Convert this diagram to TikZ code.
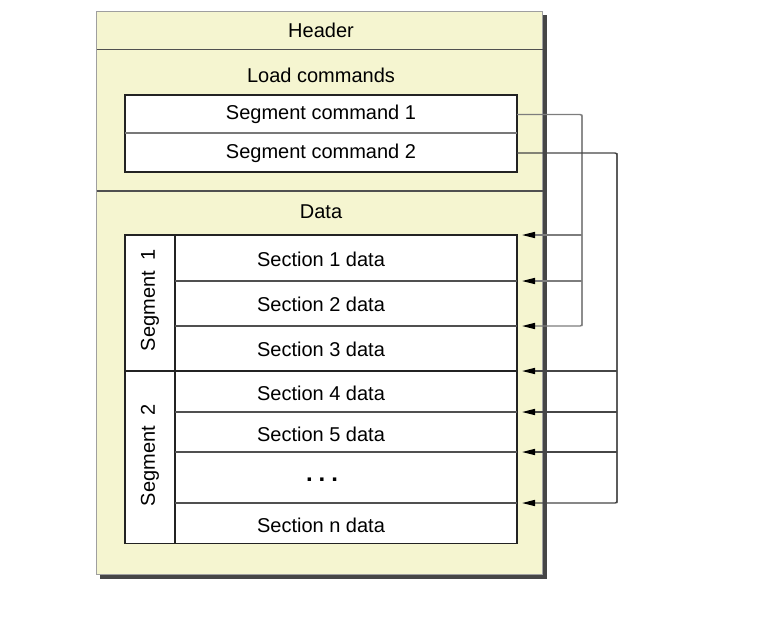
\documentclass[tikz,border=0pt]{standalone}
\usepackage{fontspec}
\setmainfont{Liberation Sans}
\usetikzlibrary{arrows.meta}
\definecolor{paper}{RGB}{245,245,208}
\definecolor{shadowc}{RGB}{70,70,70}
\definecolor{edgec}{RGB}{35,35,35}
\definecolor{sepc}{RGB}{80,80,80}
\definecolor{lightsep}{RGB}{120,120,120}
\definecolor{wireA}{RGB}{125,125,125}
\definecolor{wireB}{RGB}{70,70,70}
\begin{document}
\begin{tikzpicture}[x=1pt,y=-1pt,
  lbl/.style={font=\fontsize{20}{23}\selectfont, inner sep=0pt, text=black},
  boxline/.style={draw=edgec, line width=1.8pt},
  sepline/.style={draw=sepc, line width=1.6pt},
  thinsep/.style={draw=lightsep, line width=1.3pt},
  wire/.style={line width=1.4pt, rounded corners=2pt},
  ptr/.style={wire, -{Triangle[length=13pt,width=6pt,color=black]}}
]
\useasboundingbox (0,0) rectangle (770,618);
% outer box with shadow
\fill[shadowc] (100,15) rectangle (547,579);
\draw[fill=paper, draw=gray!75, line width=0.9pt] (96.5,11.5) rectangle (542.5,574.5);
\draw[sepline] (96.5,49.5) -- (542.5,49.5);
\draw[sepline] (96.5,191) -- (542.5,191);
% headings
\node[lbl] (hdr) at (321,30) {Header};
\node[lbl] (lc) at (321,75) {Load commands};
\node[lbl] (data) at (321,212) {Data};
% segment commands
\draw[fill=white, boxline] (125,95) rectangle (517,172);
\draw[thinsep] (125,133) -- (517,133);
\node[lbl, minimum width=392pt, minimum height=38pt] (sc1) at (321,114.5) {Segment command 1};
\node[lbl, minimum width=392pt, minimum height=39pt] (sc2) at (321,153) {Segment command 2};
% data box
\draw[fill=white, boxline] (125,235) rectangle (517,543.5);
\draw[boxline] (175,235) -- (175,543.5);
\draw[boxline] (125,371) -- (517,371);
\foreach \yy in {281,326,412,452,503} \draw[sepline] (175,\yy) -- (517,\yy);
\node[lbl, rotate=90] (seg1) at (150,300) {Segment\hspace{0.55em}1};
\node[lbl, rotate=90] (seg2) at (150,455) {Segment\hspace{0.55em}2};
\node[lbl] (s1) at (321,259) {Section 1 data};
\node[lbl] (s2) at (321,304) {Section 2 data};
\node[lbl] (s3) at (321,349) {Section 3 data};
\node[lbl] (s4) at (321,393) {Section 4 data};
\node[lbl] (s5) at (321,434) {Section 5 data};
\node[lbl, font=\fontsize{24}{26}\selectfont\bfseries] (s6) at (322,480) {.\hspace{6pt}.\hspace{6pt}.};
\node[lbl] (sn) at (321,525) {Section n data};
% arrow targets and wire columns
\coordinate (vA) at (582,0);
\coordinate (vB) at (617,0);
\coordinate (t1) at (522,235);
\coordinate (t2) at (522,281);
\coordinate (t3) at (522,326);
\coordinate (t4) at (522,371);
\coordinate (t5) at (522,412);
\coordinate (t6) at (522,452);
\coordinate (t7) at (522,503);
% connectors from segment command 1
\draw[wire, draw=wireA] (sc1.east) -| (t3 -| vA);
\draw[ptr, draw=wireA] (t1 -| vA) -- (t1);
\draw[ptr, draw=wireA] (t2 -| vA) -- (t2);
\draw[ptr, draw=wireA] (vA |- sc1.east) |- (t3);
% connectors from segment command 2
\draw[wire, draw=wireB] (sc2.east) -| (t7 -| vB);
\draw[ptr, draw=wireB] (t4 -| vB) -- (t4);
\draw[ptr, draw=wireB] (t5 -| vB) -- (t5);
\draw[ptr, draw=wireB] (t6 -| vB) -- (t6);
\draw[ptr, draw=wireB] (vB |- sc2.east) |- (t7);
\end{tikzpicture}
\end{document}
